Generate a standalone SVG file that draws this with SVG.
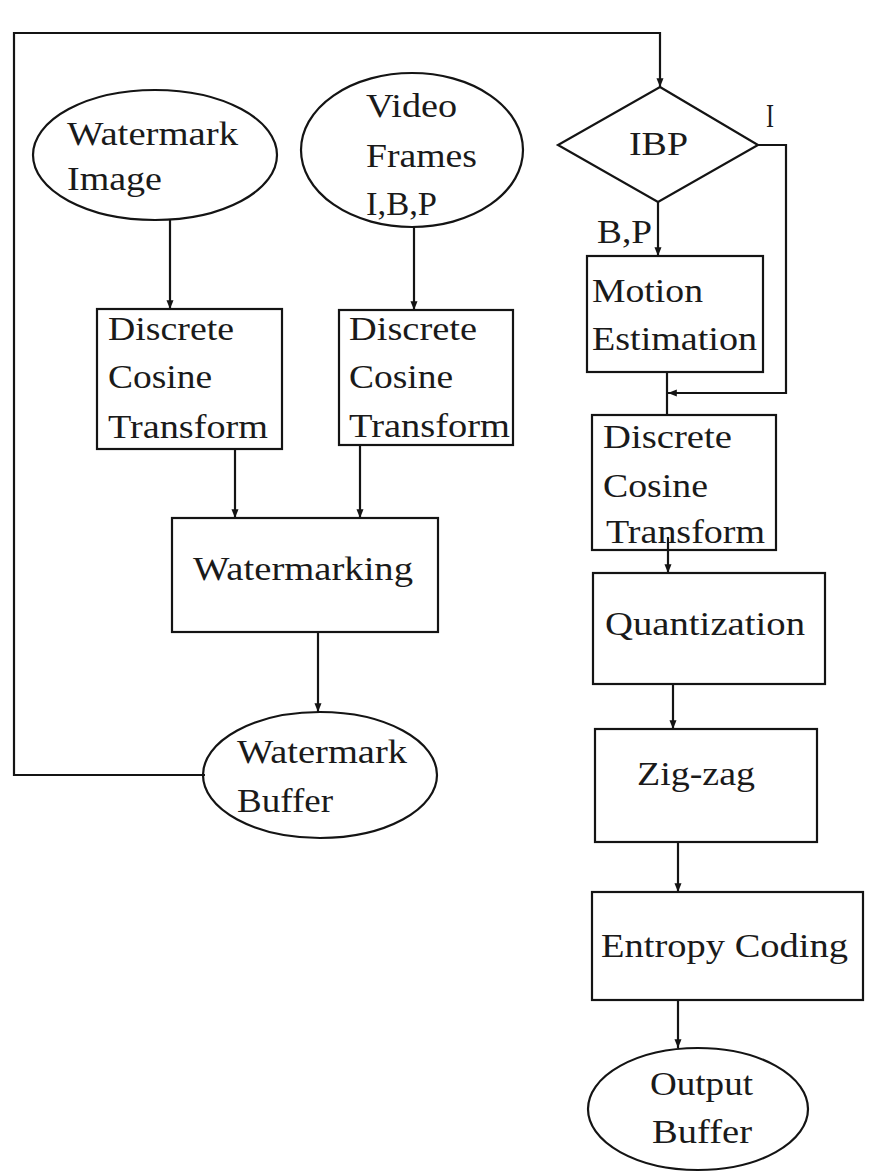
<svg xmlns="http://www.w3.org/2000/svg" width="875" height="1176" viewBox="0 0 875 1176">
  <style>
    .shape { fill: none; stroke: #141414; stroke-width: 2.2; }
    .wire { fill: none; stroke: #141414; stroke-width: 2.2; }
    .lbl { font-family: "Liberation Serif", "Times New Roman", serif; font-size: 34px; fill: #1a1a1a; }
  </style>
  <defs>
    <marker id="arrow" viewBox="0 0 10 10" refX="10" refY="5" markerWidth="4" markerHeight="4" orient="auto" markerUnits="strokeWidth">
      <path d="M0,1 L10,5 L0,9 Z" fill="#141414"/>
    </marker>
  </defs>
  <rect width="875" height="1176" fill="#ffffff"/>

  <!-- connectors -->
  <g id="connectors">
    <!-- feedback loop: watermark buffer back to the frame-type decision -->
    <polyline class="wire" points="205,775 14,775 14,33 660,33 660,87" marker-end="url(#arrow)"/>
    <line class="wire" x1="170" y1="220" x2="170" y2="309" marker-end="url(#arrow)"/>
    <line class="wire" x1="414" y1="227" x2="414" y2="310" marker-end="url(#arrow)"/>
    <line class="wire" x1="235" y1="449" x2="235" y2="518" marker-end="url(#arrow)"/>
    <line class="wire" x1="360" y1="445" x2="360" y2="518" marker-end="url(#arrow)"/>
    <line class="wire" x1="318" y1="632" x2="318" y2="712" marker-end="url(#arrow)"/>
    <!-- B,P branch -->
    <line class="wire" x1="658" y1="202" x2="658" y2="256" marker-end="url(#arrow)"/>
    <!-- I branch bypasses motion estimation -->
    <polyline class="wire" points="758,145 786,145 786,393 668,393" marker-end="url(#arrow)"/>
    <line class="wire" x1="667" y1="372" x2="667" y2="415"/>
    <line class="wire" x1="668" y1="537" x2="668" y2="573" marker-end="url(#arrow)"/>
    <line class="wire" x1="673" y1="684" x2="673" y2="729" marker-end="url(#arrow)"/>
    <line class="wire" x1="678" y1="842" x2="678" y2="892" marker-end="url(#arrow)"/>
    <line class="wire" x1="678" y1="1000" x2="678" y2="1048" marker-end="url(#arrow)"/>
    <text class="lbl" x="766" y="127" textLength="8" lengthAdjust="spacingAndGlyphs">I</text>
    <text class="lbl" x="597" y="243" textLength="55" lengthAdjust="spacingAndGlyphs">B,P</text>
  </g>

  <g id="watermark-image">
    <ellipse class="shape" cx="155" cy="155" rx="122" ry="65"/>
    <text class="lbl" x="67" y="145" textLength="171" lengthAdjust="spacingAndGlyphs">Watermark</text>
    <text class="lbl" x="67" y="190" textLength="95" lengthAdjust="spacingAndGlyphs">Image</text>
  </g>

  <g id="video-frames">
    <ellipse class="shape" cx="412" cy="150" rx="111" ry="77"/>
    <text class="lbl" x="366" y="117" textLength="91" lengthAdjust="spacingAndGlyphs">Video</text>
    <text class="lbl" x="366" y="167" textLength="111" lengthAdjust="spacingAndGlyphs">Frames</text>
    <text class="lbl" x="366" y="215" textLength="71" lengthAdjust="spacingAndGlyphs">I,B,P</text>
  </g>

  <g id="ibp">
    <polygon class="shape" points="660,87 758,145 658,202 558,145"/>
    <text class="lbl" x="629" y="155" textLength="59" lengthAdjust="spacingAndGlyphs">IBP</text>
  </g>

  <g id="motion-estimation">
    <rect class="shape" x="587" y="256" width="176" height="116"/>
    <text class="lbl" x="592" y="302" textLength="111" lengthAdjust="spacingAndGlyphs">Motion</text>
    <text class="lbl" x="592" y="350" textLength="165" lengthAdjust="spacingAndGlyphs">Estimation</text>
  </g>

  <g id="dct-watermark">
    <rect class="shape" x="97" y="309" width="185" height="140"/>
    <text class="lbl" x="108" y="340" textLength="126" lengthAdjust="spacingAndGlyphs">Discrete</text>
    <text class="lbl" x="108" y="388" textLength="104" lengthAdjust="spacingAndGlyphs">Cosine</text>
    <text class="lbl" x="108" y="438" textLength="160" lengthAdjust="spacingAndGlyphs">Transform</text>
  </g>

  <g id="dct-video">
    <rect class="shape" x="339" y="310" width="174" height="135"/>
    <text class="lbl" x="349" y="340" textLength="128" lengthAdjust="spacingAndGlyphs">Discrete</text>
    <text class="lbl" x="349" y="388" textLength="104" lengthAdjust="spacingAndGlyphs">Cosine</text>
    <text class="lbl" x="349" y="437" textLength="161" lengthAdjust="spacingAndGlyphs">Transform</text>
  </g>

  <g id="dct-encoder">
    <rect class="shape" x="592" y="415" width="184" height="135"/>
    <text class="lbl" x="603" y="448" textLength="129" lengthAdjust="spacingAndGlyphs">Discrete</text>
    <text class="lbl" x="603" y="497" textLength="105" lengthAdjust="spacingAndGlyphs">Cosine</text>
    <text class="lbl" x="606" y="543" textLength="159" lengthAdjust="spacingAndGlyphs">Transform</text>
  </g>

  <g id="watermarking">
    <rect class="shape" x="172" y="518" width="266" height="114"/>
    <text class="lbl" x="193" y="580" textLength="220" lengthAdjust="spacingAndGlyphs">Watermarking</text>
  </g>

  <g id="quantization">
    <rect class="shape" x="593" y="573" width="232" height="111"/>
    <text class="lbl" x="605" y="635" textLength="200" lengthAdjust="spacingAndGlyphs">Quantization</text>
  </g>

  <g id="watermark-buffer">
    <ellipse class="shape" cx="320" cy="775" rx="117" ry="63"/>
    <text class="lbl" x="237" y="763" textLength="170" lengthAdjust="spacingAndGlyphs">Watermark</text>
    <text class="lbl" x="237" y="812" textLength="96" lengthAdjust="spacingAndGlyphs">Buffer</text>
  </g>

  <g id="zig-zag">
    <rect class="shape" x="595" y="729" width="222" height="113"/>
    <text class="lbl" x="637" y="785" textLength="118" lengthAdjust="spacingAndGlyphs">Zig-zag</text>
  </g>

  <g id="entropy-coding">
    <rect class="shape" x="592" y="892" width="271" height="108"/>
    <text class="lbl" x="601" y="957" textLength="247" lengthAdjust="spacingAndGlyphs">Entropy Coding</text>
  </g>

  <g id="output-buffer">
    <ellipse class="shape" cx="698" cy="1109" rx="110" ry="61"/>
    <text class="lbl" x="650" y="1095" textLength="103" lengthAdjust="spacingAndGlyphs">Output</text>
    <text class="lbl" x="652" y="1143" textLength="100" lengthAdjust="spacingAndGlyphs">Buffer</text>
  </g>
</svg>
